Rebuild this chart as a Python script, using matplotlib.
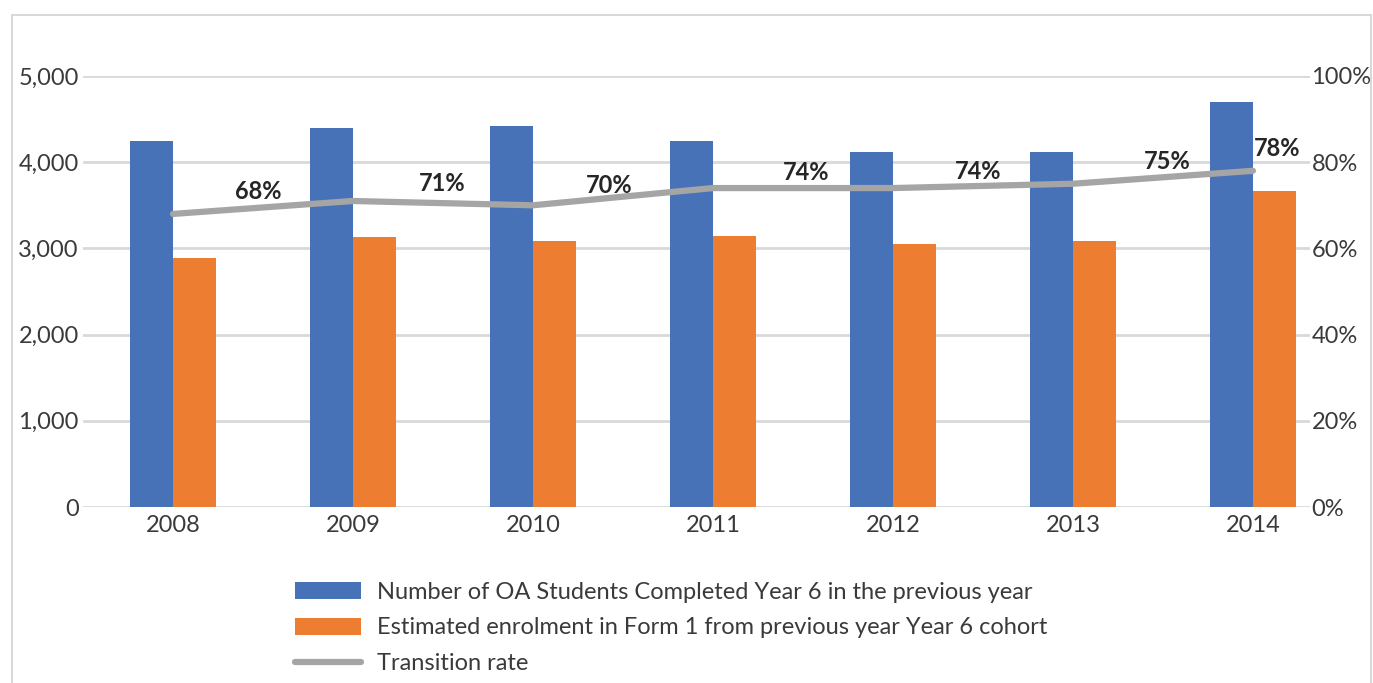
import matplotlib
matplotlib.use("Agg")
import matplotlib.pyplot as plt
from matplotlib.patches import Rectangle
from matplotlib.ticker import FuncFormatter

years = ["2008", "2009", "2010", "2011", "2012", "2013", "2014"]
completed_y6 = [4250, 4400, 4420, 4250, 4120, 4120, 4700]
form1_enrol = [2890, 3130, 3090, 3140, 3050, 3090, 3670]
transition = [0.68, 0.71, 0.70, 0.74, 0.74, 0.75, 0.78]

# label offsets (pixels) relative to each line point
label_offsets = [(85, 22), (89, 17), (76, 20), (93, 16), (85, 17), (94, 22), (24, 22)]

BLUE = "#4872B8"
ORANGE = "#ED7D31"
GREY = "#A5A5A5"
GRID = "#D9D9D9"
TEXT = "#3A3A3A"

plt.rcParams["font.family"] = ["Lato", "DejaVu Sans"]

fig = plt.figure(figsize=(13.73, 6.83), dpi=100)
W, H = 1373, 683

# outer frame
fig.patches.append(Rectangle((12 / W, -0.01), (1371 - 12) / W, 1 - 15 / H + 0.01,
                             transform=fig.transFigure, fill=False,
                             edgecolor=GRID, linewidth=1.5))

ax = fig.add_axes([83 / W, 1 - 507 / H, (1310 - 83) / W, (507 - 76) / H])
x = list(range(len(years)))
bw = 0.24
ax.bar([i - bw / 2 for i in x], completed_y6, width=bw, color=BLUE,
       label="Number of OA Students Completed Year 6 in the previous year", zorder=2)
ax.bar([i + bw / 2 for i in x], form1_enrol, width=bw, color=ORANGE,
       label="Estimated enrolment in Form 1 from previous year Year 6 cohort", zorder=2)

ax.set_xlim(-0.5, 6.317)
ax.set_ylim(0, 5000)
ax.set_yticks([0, 1000, 2000, 3000, 4000, 5000])
ax.yaxis.set_major_formatter(FuncFormatter(lambda v, p: f"{int(v):,}"))
ax.set_xticks(x)
ax.set_xticklabels(years)
ax.grid(axis="y", color=GRID, linewidth=2, zorder=0)
ax.set_axisbelow(True)
for s in ax.spines.values():
    s.set_visible(False)
ax.tick_params(axis="x", length=0, labelsize=17, colors=TEXT, pad=6)
ax.tick_params(axis="y", length=0, labelsize=17, colors=TEXT, pad=3)

ax2 = ax.twinx()
ax2.set_ylim(0, 1)
ax2.set_yticks([0, 0.2, 0.4, 0.6, 0.8, 1.0])
ax2.yaxis.set_major_formatter(FuncFormatter(lambda v, p: f"{int(round(v * 100))}%"))
for s in ax2.spines.values():
    s.set_visible(False)
ax2.tick_params(length=0, labelsize=17, colors=TEXT, pad=1)

ax2.plot(x, transition, color=GREY, linewidth=4.5, solid_capstyle="round",
         label="Transition rate", zorder=3)
for i, v in enumerate(transition):
    dx, dy = label_offsets[i]
    ax2.annotate(f"{int(round(v * 100))}%", (i, v), xytext=(dx, dy),
                 textcoords="offset pixels", ha="center", va="center",
                 fontsize=17, fontweight="bold", color="#262626")

h1, l1 = ax.get_legend_handles_labels()
h2, l2 = ax2.get_legend_handles_labels()
leg = fig.legend(h1 + h2, l1 + l2, loc="upper left",
                 bbox_to_anchor=(283 / W, 1 - 570 / H), frameon=False,
                 fontsize=17, handlelength=2.8, handleheight=0.75,
                 handletextpad=0.7, labelspacing=0.62, borderpad=0)
for t in leg.get_texts():
    t.set_color(TEXT)

fig.savefig("out.png", dpi=100)
